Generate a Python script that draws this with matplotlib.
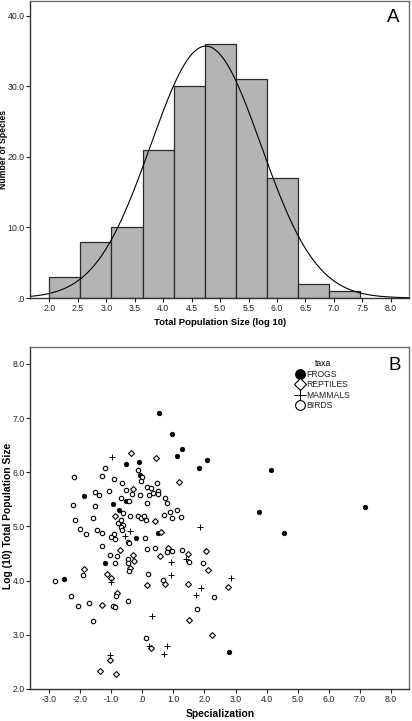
import numpy as np
import matplotlib
matplotlib.use("Agg")
import matplotlib.pyplot as plt
from matplotlib.ticker import FuncFormatter

plt.rcParams["font.family"] = ["Liberation Sans", "DejaVu Sans"]

# =====================================================
# Panel A data : histogram of log10 population size
# =====================================================
bin_start = 2.0
bin_width = 0.546
species_counts = [3, 8, 10, 21, 30, 36, 31, 17, 2, 1]
curve_mean = 4.75
curve_sd = 0.97

# =====================================================
# Panel B data : specialization vs log10 population size
# =====================================================
frogs_x = [0.54, 0.97, 1.27, 1.12, 2.09, 1.84, 4.15, -0.52, -0.12, -0.07, -1.87,
           -0.93, -0.53, -0.75, 0.52, -0.21, -1.20, -2.53, 3.75, 4.55, 7.16, 2.79]
frogs_y = [7.10, 6.70, 6.43, 6.30, 6.22, 6.07, 6.04, 6.15, 6.19, 5.94, 5.56,
           5.41, 5.46, 5.31, 4.87, 4.78, 4.33, 4.03, 5.27, 4.87, 5.36, 2.69]

reptiles_x = [-0.35, 0.45, 1.17, -0.29, 0.42, -0.88, 0.61, 0.56, 0.82, 1.46, 2.05,
              2.10, 0.72, 0.15, 1.46, 2.77, -1.88, -1.13, -1.00, -0.72, -0.31, -0.26,
              -0.39, -0.82, -1.31, 1.52, 2.23, 0.28, -1.04, -1.36, -0.86]
reptiles_y = [6.36, 6.26, 5.81, 5.69, 5.10, 5.19, 4.89, 4.46, 4.61, 4.49, 4.54,
              4.20, 3.93, 3.91, 3.93, 3.88, 4.22, 4.13, 4.04, 4.56, 4.47, 4.36,
              4.23, 3.77, 3.55, 3.27, 2.99, 2.76, 2.54, 2.33, 2.27]

mammals_x = [-0.96, 1.85, 0.92, 0.92, 1.40, 2.85, 1.90, 1.72, 0.32, 0.80, 0.21,
             0.69, -1.05, -0.40, -0.55, -1.00]
mammals_y = [6.28, 4.98, 4.35, 4.10, 4.40, 4.04, 3.86, 3.74, 3.35, 2.79, 2.80,
             2.64, 2.62, 4.92, 4.82, 3.97]

birds_x = [-1.20, -2.20, -1.28, -0.92, -0.15, 0.00, -0.04, -0.66, 0.48, -1.52,
           -1.38, -1.07, -0.52, -0.32, -0.07, 0.14, 0.29, 0.22, 0.36, 0.51,
           0.51, -2.24, -1.53, -0.68, -0.44, 0.14, 0.74, 0.81, -2.15, -1.57,
           -2.00, -1.82, -1.45, -1.28, -0.92, -1.01, -0.89, -0.78, -0.67, -0.62,
           -0.67, -0.62, -0.64, -0.39, -0.14, -0.05, 0.05, 0.13, 0.09, 0.71,
           0.88, 0.97, 1.13, 1.25, -0.46, -0.44, -1.28, -1.04, -0.81, -0.89,
           -0.47, -0.45, -0.41, 0.14, 0.42, 0.79, 0.96, 1.27, 1.50, 1.96,
           0.20, 0.67, -1.89, -2.79, -0.86, -2.30, -2.07, -1.70, -0.93, -0.89,
           -0.47, 2.32, 1.75, -1.58, 0.11]
birds_y = [6.07, 5.91, 5.93, 5.88, 6.04, 5.91, 5.84, 5.80, 5.80, 5.64,
           5.58, 5.66, 5.67, 5.60, 5.58, 5.73, 5.71, 5.58, 5.62, 5.66,
           5.59, 5.40, 5.37, 5.52, 5.46, 5.44, 5.52, 5.43, 5.12, 5.15,
           4.96, 4.86, 4.93, 4.88, 4.86, 4.80, 4.77, 5.07, 5.11, 5.03,
           4.98, 5.24, 4.93, 5.19, 5.19, 5.15, 5.19, 5.12, 4.79, 5.21,
           5.26, 5.15, 5.31, 5.17, 4.71, 4.69, 4.64, 4.47, 4.46, 4.33,
           4.39, 4.32, 4.17, 4.58, 4.60, 4.53, 4.55, 4.57, 4.34, 4.33,
           4.12, 4.02, 4.10, 4.00, 3.71, 3.71, 3.53, 3.58, 3.54, 3.51,
           3.62, 3.70, 3.48, 3.25, 2.94]

tick_color = "#222222"
frame_color = "#6e6e6e"


# =====================================================
# SPSS style number labels ( .0 instead of 0.0 )
# =====================================================
def spss_label(value, pos):
    text = f"{value:.1f}"
    if text in ("0.0", "-0.0"):
        return ".0"
    return text


def style_axes(ax):
    for side in ["top", "right"]:
        ax.spines[side].set_color(frame_color)
        ax.spines[side].set_linewidth(1.0)
    for side in ["left", "bottom"]:
        ax.spines[side].set_color("#333333")
        ax.spines[side].set_linewidth(1.0)
    ax.tick_params(direction="out", length=3, width=0.8, colors=tick_color,
                   labelsize=6.3, pad=1)
    ax.xaxis.set_major_formatter(FuncFormatter(spss_label))
    ax.yaxis.set_major_formatter(FuncFormatter(spss_label))


# =====================================================
# Panel A : histogram with normal curve
# =====================================================
def draw_histogram(ax):
    counts = np.array(species_counts)
    edges = bin_start + bin_width * np.arange(len(counts) + 1)

    ax.bar(edges[:-1], counts, width=bin_width, align="edge",
           color="#b4b4b4", edgecolor="#2b2b2b", linewidth=0.9)

    total = counts.sum()
    xs = np.linspace(1.66, 8.32, 300)
    ys = total * bin_width / (curve_sd * np.sqrt(2 * np.pi)) * \
        np.exp(-0.5 * ((xs - curve_mean) / curve_sd) ** 2)
    ax.plot(xs, ys, color="black", linewidth=0.8)

    ax.set_xlim(1.66, 8.32)
    ax.set_ylim(0, 42.1)
    ax.set_xticks(np.arange(2.0, 8.01, 0.5))
    ax.set_yticks([0, 10, 20, 30, 40])
    style_axes(ax)

    ax.set_xlabel("Total Population Size (log 10)", fontsize=6.8,
                  fontweight="bold", va="center")
    ax.xaxis.set_label_coords(0.501, -0.083)
    ax.set_ylabel("Number of Species", fontsize=6.2, fontweight="bold",
                  va="center")
    ax.yaxis.set_label_coords(-0.071, 0.5)

    ax.text(0.958, 0.946, "A", transform=ax.transAxes, fontsize=13.5,
            ha="center", va="center")


# =====================================================
# Panel B : scatter by taxa
# =====================================================
def draw_scatter(ax):
    ax.plot(frogs_x, frogs_y, linestyle="none", marker="o", ms=3.3,
            mfc="black", mec="black", mew=0.5, label="FROGS")
    ax.plot(reptiles_x, reptiles_y, linestyle="none", marker="D", ms=3.0,
            mfc="white", mec="black", mew=0.8, label="REPTILES")
    ax.plot(mammals_x, mammals_y, linestyle="none", marker="+", ms=4.0,
            mec="black", mew=0.7, label="MAMMALS")
    ax.plot(birds_x, birds_y, linestyle="none", marker="o", ms=3.2,
            mfc="white", mec="black", mew=0.8, label="BIRDS")

    ax.set_xlim(-3.61, 8.58)
    ax.set_ylim(2.0, 8.31)
    ax.set_xticks(np.arange(-3, 9, 1))
    ax.set_yticks(np.arange(2, 9, 1))
    style_axes(ax)

    ax.set_xlabel("Specialization", fontsize=7.4, fontweight="bold",
                  va="center")
    ax.xaxis.set_label_coords(0.501, -0.074)
    ax.set_ylabel("Log (10) Total Population Size", fontsize=7.4,
                  fontweight="bold", va="center")
    ax.yaxis.set_label_coords(-0.057, 0.507)

    leg = ax.legend(loc="upper left", bbox_to_anchor=(0.705, 0.965),
                    frameon=False, title="taxa", fontsize=6.2,
                    title_fontsize=6.2, markerscale=2.2, handlelength=0.7,
                    handletextpad=0.3, labelspacing=0.18, borderpad=0,
                    borderaxespad=0)
    for t in leg.get_texts():
        t.set_color(tick_color)

    ax.text(0.963, 0.947, "B", transform=ax.transAxes, fontsize=13.5,
            ha="center", va="center")


# =====================================================
# Main Program
# =====================================================
def main():
    fig = plt.figure(figsize=(4.12, 7.21), dpi=100)
    ax_a = fig.add_axes([30 / 412, 1 - 298 / 721, 379 / 412, 297 / 721])
    ax_b = fig.add_axes([30 / 412, 1 - 689 / 721, 379 / 412, 342 / 721])

    draw_histogram(ax_a)
    draw_scatter(ax_b)

    fig.savefig("out.png", dpi=100)
    plt.close(fig)


if __name__ == "__main__":
    main()
